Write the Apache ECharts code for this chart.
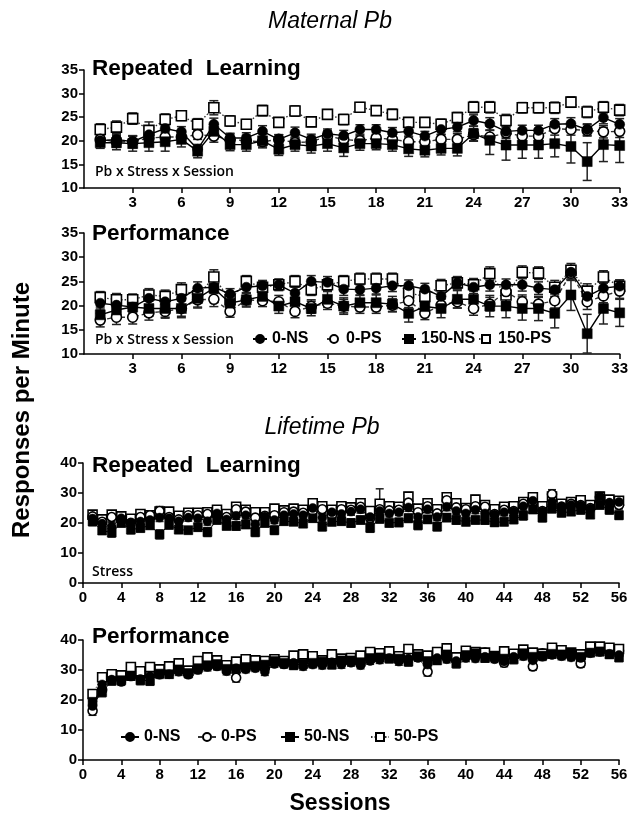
<!DOCTYPE html>
<html>
<head>
<meta charset="utf-8">
<script src="https://cdn.jsdelivr.net/npm/echarts@6/dist/echarts.min.js"></script>
<style>
  html, body { margin: 0; padding: 0; background: #fff; }
  #chart { width: 631px; height: 817px; }
</style>
</head>
<body>
<div id="chart"></div>
<script>
// ---- Maternal Pb: sessions 1-33 ----
const maternalSessions = [1,2,3,4,5,6,7,8,9,10,11,12,13,14,15,16,17,18,19,20,21,22,23,24,25,26,27,28,29,30,31,32,33];
const maternalXTicks = [3,6,9,12,15,18,21,24,27,30,33];
const maternalYTicks = [10,15,20,25,30,35];

// Repeated Learning (means)
const mRL_0NS   = [20.0,20.3,19.8,21.3,22.6,21.9,18.2,23.5,20.6,20.6,22.0,20.3,21.7,20.3,21.5,21.1,22.4,22.4,21.7,22.0,21.0,22.4,22.9,24.3,23.6,22.0,22.2,22.2,23.5,23.6,22.4,24.9,23.5];
const mRL_0PS   = [20.3,19.8,19.8,20.6,20.8,20.8,21.3,21.0,20.3,20.0,19.8,20.3,19.6,19.8,21.0,20.3,20.0,20.6,20.3,19.8,19.8,20.3,20.3,21.3,20.8,21.7,21.0,21.0,22.6,22.4,22.2,21.9,22.0];
const mRL_150NS = [19.6,19.6,19.4,19.6,19.8,20.3,17.8,22.0,19.2,19.2,20.0,18.2,19.2,18.9,19.4,18.5,19.4,19.4,19.2,18.3,18.0,18.4,18.4,21.5,20.1,19.1,19.1,19.1,19.4,18.8,15.6,19.2,19.0];
const mRL_150PS = [22.4,22.9,24.7,22.2,24.5,25.3,23.5,27.0,24.2,23.5,26.4,23.9,26.3,24.0,25.6,24.5,27.1,26.4,25.6,23.9,23.9,23.5,24.9,27.1,27.1,24.3,27.0,27.0,27.0,28.2,26.1,27.1,26.5];
// Repeated Learning (SEM)
const mRL_0NS_se   = [1.0,1.1,1.2,1.3,1.2,1.1,1.0,1.3,1.0,1.1,1.2,1.0,1.2,1.1,1.0,1.1,1.0,1.0,1.1,1.0,1.0,1.1,1.0,1.2,1.3,1.2,1.1,1.1,1.2,1.3,1.2,1.3,1.2];
const mRL_0PS_se   = [1.1,1.2,1.3,1.5,1.3,1.2,1.0,1.3,1.1,1.2,1.1,1.0,1.2,1.2,1.1,1.0,1.1,1.2,1.1,1.0,1.0,1.1,1.2,1.3,1.4,1.2,1.2,1.3,1.4,1.2,1.2,1.3,1.3];
const mRL_150NS_se = [1.2,1.5,1.6,1.8,2.0,1.6,1.4,1.6,1.3,1.4,1.5,1.3,1.4,1.5,1.6,1.8,1.4,1.3,1.4,1.6,1.4,1.4,1.6,1.6,3.0,3.2,2.8,2.8,2.8,3.5,4.0,3.6,3.6];
const mRL_150PS_se = [1.2,1.3,1.2,1.8,1.2,1.0,1.2,1.5,1.1,1.0,1.1,1.0,1.1,1.0,1.0,1.1,1.0,1.0,1.1,1.0,1.0,1.1,1.1,1.2,1.2,1.3,1.1,1.1,1.2,1.1,1.2,1.2,1.2];

// Performance (means)
const mPF_0NS   = [20.5,20.1,19.7,21.5,20.8,21.5,23.6,23.8,22.4,23.8,24.1,24.3,22.6,25.0,24.8,23.4,23.3,23.6,24.1,24.1,23.4,21.9,24.7,23.8,24.3,24.3,24.3,23.6,23.3,26.9,21.9,23.6,24.0];
const mPF_0PS   = [17.0,17.6,17.6,18.5,18.8,19.4,21.2,21.3,18.8,21.2,21.0,20.8,18.8,19.8,20.5,19.9,19.7,19.7,20.1,21.0,18.4,20.1,20.8,19.4,20.3,22.9,20.8,20.3,21.0,26.7,20.8,22.0,23.0];
const mPF_150NS = [18.1,19.1,19.7,19.4,19.4,19.4,21.5,23.6,20.5,21.2,21.9,19.9,20.8,19.4,21.3,19.9,20.6,20.6,20.3,18.4,19.8,19.4,21.3,21.3,19.9,19.9,19.4,19.4,18.4,22.2,14.2,19.4,18.5];
const mPF_150PS = [21.7,21.2,21.2,22.2,21.9,23.3,22.0,25.9,21.2,25.0,23.8,24.3,25.0,23.3,24.3,25.0,25.5,25.5,25.5,22.6,21.9,24.1,24.7,24.3,26.6,22.2,26.9,26.7,23.8,27.3,23.0,25.9,24.0];
// Performance (SEM)
const mPF_0NS_se   = [1.2,1.3,1.2,1.4,1.3,1.4,1.3,1.3,1.1,1.2,1.1,1.1,1.2,1.2,1.2,1.3,1.2,1.2,1.2,1.2,1.2,1.3,1.2,1.3,1.3,1.2,1.3,1.3,1.4,1.4,1.5,1.3,1.3];
const mPF_0PS_se   = [1.4,1.5,1.4,1.5,1.4,1.6,1.5,1.5,1.2,1.3,1.2,1.3,1.3,1.4,1.3,1.4,1.3,1.3,1.3,1.4,1.3,1.4,1.3,1.4,1.4,1.5,1.4,1.4,1.5,1.5,1.6,1.4,1.5];
const mPF_150NS_se = [1.6,1.8,1.7,1.6,1.8,1.9,2.0,1.8,1.7,1.5,1.5,1.5,1.6,1.5,1.6,1.7,1.6,1.6,1.6,1.8,1.8,1.9,1.8,1.9,2.2,2.4,2.4,2.5,3.0,3.2,4.0,3.2,2.8];
const mPF_150PS_se = [1.2,1.3,1.2,1.3,1.3,1.4,1.4,1.5,1.2,1.2,1.1,1.2,1.2,1.2,1.2,1.2,1.2,1.2,1.2,1.3,1.3,1.3,1.3,1.3,1.4,1.4,1.3,1.3,1.4,1.4,1.5,1.3,1.3];

// ---- Lifetime Pb: sessions 1-56 ----
const lifetimeSessions = [1,2,3,4,5,6,7,8,9,10,11,12,13,14,15,16,17,18,19,20,21,22,23,24,25,26,27,28,29,30,31,32,33,34,35,36,37,38,39,40,41,42,43,44,45,46,47,48,49,50,51,52,53,54,55,56];
const lifetimeXTicks = [0,4,8,12,16,20,24,28,32,36,40,44,48,52,56];
const lifetimeYTicks = [0,10,20,30,40];

// Repeated Learning (means)
const lRL_0NS  = [21.5,19.8,18.8,21.6,20.2,20.5,21.0,21.8,21.6,20.6,21.8,21.6,20.6,23.2,21.2,22.4,22.6,19.6,22.2,21.0,22.6,23.0,22.6,25.0,21.8,23.6,23.0,23.8,24.6,22.0,24.0,23.2,23.6,25.2,22.0,24.6,22.0,25.4,24.0,23.2,24.4,23.2,22.8,23.6,23.8,25.6,27.4,23.8,27.0,25.6,26.0,25.8,24.8,28.8,26.8,27.0];
const lRL_0PS  = [22.2,20.4,22.0,21.0,20.0,22.0,22.6,24.0,22.0,21.2,22.6,22.6,23.0,22.6,22.0,24.6,23.8,21.8,22.4,22.6,23.6,23.8,23.4,24.0,24.6,22.6,24.6,24.4,25.4,21.6,24.6,24.2,24.4,26.8,23.6,25.6,23.2,27.6,25.2,24.6,25.6,25.4,23.0,24.4,24.0,26.4,26.8,24.0,29.6,25.4,26.4,26.0,25.0,28.6,26.4,26.0];
const lRL_50NS = [20.5,17.5,16.8,20.0,17.8,18.3,19.2,16.2,19.4,17.8,17.6,18.6,17.0,21.0,19.0,19.0,19.5,17.0,20.0,17.6,20.6,20.4,19.8,21.6,18.8,20.4,20.6,20.0,21.0,18.4,21.4,20.0,20.2,21.6,19.3,21.2,18.8,21.8,21.0,20.4,21.0,21.0,20.2,20.4,21.2,22.5,24.5,21.8,24.8,23.4,23.8,24.4,22.8,26.0,24.4,22.6];
const lRL_50PS = [22.8,21.2,22.8,22.2,21.4,23.0,22.6,23.8,23.8,22.4,23.4,23.4,23.6,24.4,23.0,25.4,24.4,23.6,23.6,24.8,24.2,24.8,24.4,26.6,25.6,24.4,25.6,25.2,26.6,24.0,26.4,25.6,25.4,28.8,24.8,26.6,24.6,28.6,26.6,25.0,27.8,26.0,24.6,25.4,25.6,27.0,28.6,25.6,28.8,26.4,27.0,27.6,26.0,28.8,27.8,27.4];
// Repeated Learning (SEM)
const lRL_0NS_se  = [1.2,1.1,1.3,1.2,1.1,1.2,1.0,1.3,1.2,1.1,1.2,1.1,1.3,1.2,1.1,1.2,1.3,1.2,1.1,1.2,1.2,1.1,1.2,1.3,1.2,1.1,1.2,1.2,1.3,1.2,1.4,1.2,1.1,1.3,1.2,1.2,1.1,1.3,1.2,1.2,1.3,1.2,1.1,1.2,1.2,1.3,1.4,1.2,1.3,1.2,1.2,1.2,1.1,1.3,1.2,1.2];
const lRL_0PS_se  = [1.3,1.2,1.4,1.2,1.2,1.3,1.2,1.5,1.3,1.2,1.2,1.3,1.4,1.2,1.2,1.4,1.3,1.3,1.2,1.3,1.2,1.2,1.3,1.4,1.4,1.2,1.3,1.3,1.4,1.5,1.5,1.3,1.2,1.4,1.3,1.3,1.2,1.5,1.3,1.3,1.4,1.3,1.2,1.3,1.2,1.4,1.3,1.3,1.5,1.3,1.3,1.3,1.2,1.4,1.3,1.3];
const lRL_50NS_se = [1.4,1.3,1.5,1.3,1.4,1.3,1.2,1.5,1.4,1.3,1.2,1.3,1.5,1.3,1.2,1.4,1.3,1.5,1.3,1.4,1.3,1.2,1.3,1.3,1.4,1.3,1.3,1.4,1.3,1.5,1.4,1.3,1.4,1.4,1.5,1.3,1.4,1.3,1.4,1.3,1.3,1.4,1.3,1.3,1.4,1.5,1.3,1.4,1.4,1.3,1.3,1.4,1.3,1.3,1.4,1.4];
const lRL_50PS_se = [1.3,1.2,1.3,1.3,1.2,1.3,1.2,1.4,1.3,1.2,1.3,1.2,1.3,1.3,1.2,1.3,1.3,1.2,1.2,1.3,1.2,1.3,1.3,1.4,1.3,1.2,1.3,1.3,1.4,1.3,5.0,1.3,1.3,1.4,1.3,1.3,1.2,1.4,1.3,1.2,1.4,1.3,1.2,1.3,1.3,1.4,1.4,1.3,1.5,1.3,1.3,1.4,1.3,1.4,1.3,1.3];

// Performance (means)
const lPF_0NS  = [18.0,25.2,26.8,26.0,27.8,27.0,28.0,28.4,28.6,29.4,28.6,30.0,31.0,31.2,29.6,30.6,30.2,30.6,29.4,32.0,32.0,32.4,31.2,31.8,31.6,32.6,31.8,32.4,31.6,33.0,33.4,34.0,32.8,33.8,34.0,31.8,34.0,33.6,33.0,34.0,33.8,34.4,33.6,32.8,34.4,34.6,33.2,34.4,35.0,34.6,34.2,34.0,35.6,36.0,35.4,35.0];
const lPF_0PS  = [16.4,23.4,27.6,27.0,28.4,27.8,28.6,29.2,30.0,31.2,28.6,30.4,32.0,31.4,30.6,27.4,31.2,31.8,30.6,32.6,32.0,33.0,33.0,33.6,32.4,33.6,32.4,33.4,32.2,33.8,34.4,34.6,33.4,35.4,34.6,29.4,35.2,34.4,33.8,35.4,34.6,35.8,34.2,32.4,35.0,35.6,31.2,35.6,35.8,36.0,34.8,32.2,36.8,37.0,36.2,36.4];
const lPF_50NS = [19.4,22.6,26.4,26.6,28.0,26.6,26.4,28.8,28.6,30.2,29.0,30.6,31.6,32.0,30.4,30.4,31.0,31.4,31.8,33.0,32.4,31.6,32.0,32.4,32.8,31.8,33.2,33.2,32.6,34.0,34.2,33.8,33.8,32.8,34.6,33.0,33.2,35.2,32.2,35.0,35.6,34.0,34.8,33.8,33.6,35.6,34.4,34.8,35.4,35.2,35.6,34.4,35.8,36.2,35.2,34.2];
const lPF_50PS = [22.0,27.6,28.6,28.2,31.0,29.6,31.0,30.2,31.2,32.2,29.8,33.0,34.2,33.2,31.6,32.8,33.6,33.2,33.0,33.6,33.0,34.8,35.2,34.6,33.2,35.2,33.8,34.0,34.8,36.0,35.6,36.2,34.6,37.0,35.2,34.8,36.0,37.2,34.2,36.4,36.0,35.8,34.6,36.2,35.4,36.8,35.8,35.4,37.4,36.6,35.8,35.2,37.8,37.8,37.4,37.0];
// Performance (SEM)
const lPF_0NS_se  = [1.6,1.4,1.2,1.1,1.2,1.3,1.1,1.2,1.1,1.2,1.1,1.2,1.3,1.1,1.2,1.2,1.1,1.1,1.2,1.1,1.3,1.1,1.2,1.1,1.2,1.1,1.2,1.1,1.2,1.1,1.2,1.1,1.2,1.2,1.1,1.3,1.1,1.2,1.1,1.2,1.1,1.2,1.1,1.2,1.1,1.2,1.1,1.2,1.1,1.2,1.1,1.2,1.1,1.2,1.1,1.2];
const lPF_0PS_se  = [1.5,1.6,1.3,1.2,1.3,1.2,1.3,1.2,1.3,1.2,1.2,1.3,1.2,1.3,1.2,1.4,1.2,1.3,1.2,1.3,1.2,1.3,1.2,1.3,1.2,1.3,1.2,1.3,1.2,1.3,1.2,1.3,1.2,1.3,1.2,1.4,1.2,1.3,1.2,1.3,1.2,1.3,1.2,1.3,1.2,1.3,1.3,1.3,1.2,1.3,1.2,1.3,1.2,1.3,1.2,1.3];
const lPF_50NS_se = [1.8,1.5,1.4,1.3,1.4,1.5,1.5,1.4,1.3,1.4,1.3,1.4,1.4,1.3,1.4,1.3,1.4,1.3,1.3,1.4,1.3,1.4,1.3,1.4,1.3,1.4,1.3,1.4,1.3,1.4,1.3,1.4,1.3,1.5,1.4,1.4,1.3,1.4,1.5,1.4,1.3,1.4,1.3,1.4,1.5,1.4,1.3,1.4,1.3,1.4,1.3,1.4,1.3,1.4,1.3,1.4];
const lPF_50PS_se = [1.4,1.3,1.2,1.2,1.2,1.3,1.2,1.2,1.2,1.2,1.2,1.2,1.3,1.2,1.2,1.2,1.2,1.2,1.2,1.2,1.2,1.2,1.2,1.2,1.2,1.2,1.2,1.2,1.2,1.2,1.2,1.2,1.2,1.3,1.2,1.2,1.2,1.2,1.2,1.2,1.2,1.2,1.2,1.2,1.2,1.2,1.2,1.2,1.2,1.2,1.2,1.2,1.2,1.2,1.2,1.2];

const FONT = '"Liberation Sans", Arial, sans-serif';
const NOTE_FONT = '600 14px "Open Sans", sans-serif';

// marker and line look for each group
const groupStyle = {
  'NS-circle': { symbol: 'circle', fill: '#000', line: 'solid' },
  'PS-circle': { symbol: 'circle', fill: '#fff', line: [4, 3] },
  'NS-rect':   { symbol: 'rect',   fill: '#000', line: 'solid' },
  'PS-rect':   { symbol: 'rect',   fill: '#fff', line: [1.5, 2] }
};

function pairs(xs, ys) { return xs.map((x, i) => [x, ys[i]]); }

function lineSeries(name, grid, xs, ys, kind, big) {
  const st = groupStyle[kind];
  const open = st.fill === '#fff';
  return {
    type: 'line', name: name,
    xAxisIndex: grid, yAxisIndex: grid,
    data: pairs(xs, ys),
    symbol: st.symbol,
    symbolSize: big ? 10 : 9,
    showAllSymbol: true,
    animation: false,
    z: open ? 3 : 4,
    lineStyle: { color: open ? '#333' : '#000', width: big ? 1.4 : 1, type: st.line },
    itemStyle: { color: st.fill, borderColor: '#000', borderWidth: open ? 1.6 : 0.5 },
    emphasis: { disabled: true }
  };
}

function errSeries(grid, xs, ys, se, big) {
  return {
    type: 'custom', name: 'sem',
    xAxisIndex: grid, yAxisIndex: grid,
    data: xs.map((x, i) => [x, ys[i] - se[i], ys[i] + se[i]]),
    animation: false, silent: true, z: 2,
    renderItem: function (params, api) {
      const lo = api.coord([api.value(0), api.value(1)]);
      const hi = api.coord([api.value(0), api.value(2)]);
      const w = big ? 4.5 : 4;
      const st = { stroke: '#222', lineWidth: 1.5 };
      return {
        type: 'group',
        children: [
          { type: 'line', shape: { x1: lo[0], y1: lo[1], x2: hi[0], y2: hi[1] }, style: st },
          { type: 'line', shape: { x1: hi[0] - w, y1: hi[1], x2: hi[0] + w, y2: hi[1] }, style: st },
          { type: 'line', shape: { x1: lo[0] - w, y1: lo[1], x2: lo[0] + w, y2: lo[1] }, style: st }
        ]
      };
    }
  };
}

const axisText = { color: '#000', fontWeight: 'bold', fontSize: 15, fontFamily: FONT };
const axisLine = { show: true, onZero: false, lineStyle: { color: '#000', width: 1.5 } };

function xAxisFor(grid, max, ticks) {
  return {
    type: 'value', gridIndex: grid, min: 0, max: max,
    axisLine: axisLine,
    axisTick: { show: true, length: 5, lineStyle: { color: '#000', width: 1.5 }, customValues: ticks },
    axisLabel: Object.assign({ margin: 7, customValues: ticks }, axisText),
    splitLine: { show: false }
  };
}
function yAxisFor(grid, min, max, ticks) {
  return {
    type: 'value', gridIndex: grid, min: min, max: max,
    axisLine: axisLine,
    axisTick: { show: true, length: 5, lineStyle: { color: '#000', width: 1.5 }, customValues: ticks },
    axisLabel: Object.assign({ margin: 6, customValues: ticks }, axisText),
    splitLine: { show: false }
  };
}

const series = [];
function addPanel(grid, xs, data, names, big) {
  // data: [[means, se, kind], ...] in draw order
  data.forEach(d => series.push(errSeries(grid, xs, d[0], d[1], big)));
  data.forEach((d, i) => series.push(lineSeries(names[i], grid, xs, d[0], d[2], big)));
}

addPanel(0, maternalSessions, [
  [mRL_150PS, mRL_150PS_se, 'PS-rect'],
  [mRL_0PS, mRL_0PS_se, 'PS-circle'],
  [mRL_150NS, mRL_150NS_se, 'NS-rect'],
  [mRL_0NS, mRL_0NS_se, 'NS-circle']
], ['150-PS', '0-PS', '150-NS', '0-NS'], true);
addPanel(1, maternalSessions, [
  [mPF_150PS, mPF_150PS_se, 'PS-rect'],
  [mPF_0PS, mPF_0PS_se, 'PS-circle'],
  [mPF_150NS, mPF_150NS_se, 'NS-rect'],
  [mPF_0NS, mPF_0NS_se, 'NS-circle']
], ['150-PS', '0-PS', '150-NS', '0-NS'], true);
addPanel(2, lifetimeSessions, [
  [lRL_50PS, lRL_50PS_se, 'PS-rect'],
  [lRL_0PS, lRL_0PS_se, 'PS-circle'],
  [lRL_0NS, lRL_0NS_se, 'NS-circle'],
  [lRL_50NS, lRL_50NS_se, 'NS-rect']
], ['50-PS', '0-PS', '0-NS', '50-NS'], false);
addPanel(3, lifetimeSessions, [
  [lPF_0PS, lPF_0PS_se, 'PS-circle'],
  [lPF_50PS, lPF_50PS_se, 'PS-rect'],
  [lPF_0NS, lPF_0NS_se, 'NS-circle'],
  [lPF_50NS, lPF_50NS_se, 'NS-rect']
], ['0-PS', '50-PS', '0-NS', '50-NS'], false);

const legendText = { color: '#000', fontWeight: 'bold', fontSize: 16, fontFamily: FONT };
function legendItem(name, left, top, w) {
  return {
    data: [name], left: left, top: top, orient: 'horizontal',
    itemWidth: w, itemHeight: 10, itemGap: 0, padding: 0,
    selectedMode: false, textStyle: legendText
  };
}

function label(text, x, y, font, align) {
  return {
    type: 'text', x: x, y: y, silent: true,
    style: { text: text, font: font, fill: '#000', align: align || 'left', verticalAlign: 'middle' }
  };
}

const option = {
  backgroundColor: '#fff',
  animation: false,
  grid: [
    { left: 84, top: 70, width: 537, height: 118 },
    { left: 84, top: 233, width: 537, height: 121 },
    { left: 83, top: 463, width: 536, height: 120 },
    { left: 83, top: 640, width: 536, height: 120 }
  ],
  xAxis: [
    xAxisFor(0, 33, maternalXTicks),
    xAxisFor(1, 33, maternalXTicks),
    xAxisFor(2, 56, lifetimeXTicks),
    xAxisFor(3, 56, lifetimeXTicks)
  ],
  yAxis: [
    yAxisFor(0, 10, 35, maternalYTicks),
    yAxisFor(1, 10, 35, maternalYTicks),
    yAxisFor(2, 0, 40, lifetimeYTicks),
    yAxisFor(3, 0, 40, lifetimeYTicks)
  ],
  legend: [
    legendItem('0-NS', 252, 331, 14),
    legendItem('0-PS', 326, 331, 14),
    legendItem('150-NS', 401, 331, 14),
    legendItem('150-PS', 478, 331, 14),
    legendItem('0-NS', 120, 729, 18),
    legendItem('0-PS', 197, 729, 18),
    legendItem('50-NS', 280, 729, 18),
    legendItem('50-PS', 370, 729, 18)
  ],
  graphic: [
    label('Maternal Pb', 330, 22, 'italic 23px ' + FONT, 'center'),
    label('Lifetime Pb', 322, 428, 'italic 23px ' + FONT, 'center'),
    label('Repeated  Learning', 92, 69, 'bold 22.5px ' + FONT),
    label('Performance', 92, 234, 'bold 22.5px ' + FONT),
    label('Repeated  Learning', 92, 466, 'bold 22.5px ' + FONT),
    label('Performance', 92, 637, 'bold 22.5px ' + FONT),
    label('Pb x Stress x Session', 95, 172, NOTE_FONT),
    label('Pb x Stress x Session', 95, 340, NOTE_FONT),
    label('Stress', 92, 572, NOTE_FONT),
    { type: 'text', x: 22, y: 410, rotation: Math.PI / 2, silent: true,
      style: { text: 'Responses per Minute', font: 'bold 24px ' + FONT, fill: '#000', align: 'center', verticalAlign: 'middle' } },
    label('Sessions', 340, 804, 'bold 23px ' + FONT, 'center')
  ],
  series: series
};

const chart = echarts.init(document.getElementById('chart'), null, { renderer: 'canvas' });
chart.setOption(option);
</script>
</body>
</html>
